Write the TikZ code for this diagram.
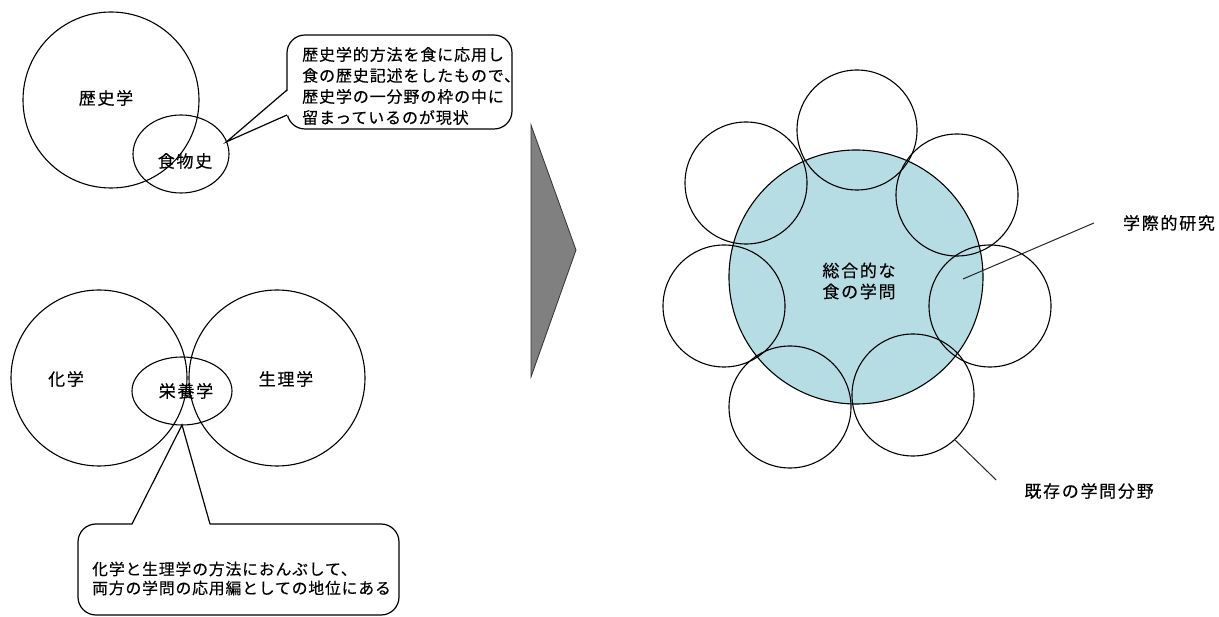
\documentclass[tikz,border=0pt]{standalone}
\usepackage{fontspec}
\usepackage{tikz}
\usetikzlibrary{shapes.geometric}
\newfontfamily\jpnote{Noto Sans CJK JP}[LetterSpace=5.5,FakeBold=0.3]
\newfontfamily\jplabel{Noto Sans CJK JP}[LetterSpace=10,FakeBold=0.3]
\definecolor{foodteal}{RGB}{182,221,228}
\definecolor{arrowgray}{RGB}{128,128,128}
\tikzstyle{field}=[shape=circle,draw,line width=1.1pt,inner sep=0pt,outer sep=0pt]
\tikzstyle{part}=[shape=ellipse,draw,line width=1.1pt,inner sep=0pt,outer sep=0pt]
\tikzstyle{lbl}=[font={\jplabel\fontsize{17}{21}\selectfont},align=center,inner sep=0pt]
\tikzstyle{bubble}=[shape=rectangle,draw,fill=white,rounded corners=18pt,line width=1.2pt,inner sep=0pt]
\tikzstyle{btext}=[align=left,inner sep=0pt,anchor=west]
\tikzstyle{tail}=[line width=1.2pt]
\tikzstyle{pointer}=[line width=1pt,black!85]

\begin{document}
\begin{tikzpicture}[x=1pt,y=-1pt]
        \useasboundingbox[fill=white] (0,0) rectangle (1219,617);

        \node[field, minimum size=176pt] (rekishi) at (111,100) {};
        \node[part, minimum width=96pt, minimum height=78pt] (shoku) at (181,154) {};
        \node[lbl] (rekishil) at (106,98) {歴史学};
        \node[lbl] (shokul) at (185,161) {食物史};
        \node[bubble, minimum width=225pt, minimum height=94pt] (note1) at (399.5,82) {};
        \coordinate (t1a) at (287,90);
        \coordinate (t1b) at (287,115);
        \fill[white] (shoku.15) -- (288.5,90) -- (288.5,115) -- cycle;
        \draw[tail] (t1a) -- (shoku.15) -- (t1b);
        \node[btext, font={\jpnote\fontsize{16}{21}\selectfont}] (note1txt) at (302,86)
            {歴史学的方法を食に応用し\\食の歴史記述をしたもので、\\歴史学の一分野の枠の中に\\留まっているのが現状};

        \node[field, minimum size=176pt] (kagaku) at (99,378) {};
        \node[field, minimum size=176pt] (seiri) at (277,378) {};
        \node[part, minimum width=100pt, minimum height=68pt] (eiyou) at (182,391) {};
        \node[lbl] (kagakul) at (66,379) {化学};
        \node[lbl] (seiril) at (286,379) {生理学};
        \node[lbl] (eiyoul) at (186,391) {栄養学};
        \node[bubble, minimum width=321pt, minimum height=91pt] (note2) at (238.5,569.5) {};
        \coordinate (t2a) at (132,524);
        \coordinate (t2b) at (210,524);
        \fill[white] (eiyou.south) -- (132,525.5) -- (210,525.5) -- cycle;
        \draw[tail] (t2a) -- (eiyou.south) -- (t2b);
        \node[btext, font={\jpnote\fontsize{15.8}{19}\selectfont}] (note2txt) at (92,578.5)
            {化学と生理学の方法におんぶして、\\両方の学問の応用編としての地位にある};

        \filldraw[fill=arrowgray, draw=black!80, line width=0.8pt] (531,125) -- (576,250) -- (531,377) -- cycle;

        \node[field, fill=foodteal, minimum size=254pt] (sogo) at (856,277) {};
        \node[field, minimum size=120pt] (c1) at (857,130) {};
        \node[field, minimum size=122pt] (c2) at (957,195) {};
        \node[field, minimum size=122pt] (c3) at (990,306) {};
        \node[field, minimum size=122pt] (c4) at (913,395) {};
        \node[field, minimum size=122pt] (c5) at (790,407) {};
        \node[field, minimum size=122pt] (c6) at (724,306) {};
        \node[field, minimum size=122pt] (c7) at (746,183) {};
        \node[lbl] (sogol) at (859,281) {総合的な\\食の学問};
        \node[lbl] (gakusai) at (1169,223) {学際的研究};
        \node[lbl] (kizon) at (1089,491) {既存の学問分野};
        \coordinate (gk) at (963,279);
        \draw[pointer] ([xshift=-29pt]gakusai.west) -- (gk);
        \draw[pointer] ([xshift=-28pt,yshift=11pt]kizon.west) -- (c4.-47);
\end{tikzpicture}
\end{document}
